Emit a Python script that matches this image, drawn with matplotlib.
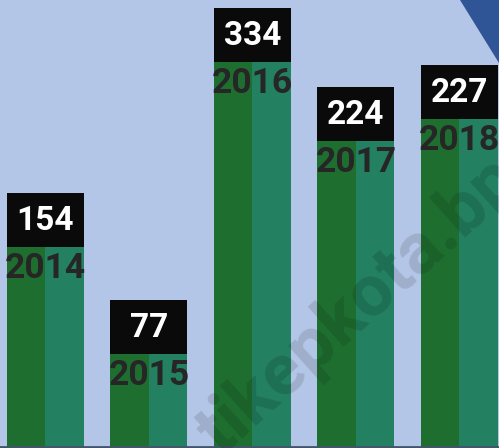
import matplotlib
matplotlib.use('Agg')
import matplotlib.pyplot as plt
from matplotlib.patches import Polygon

# Data
years = ['2014', '2015', '2016', '2017', '2018']
counts = [154, 77, 334, 224, 227]
# visible bar heights (picture units, the bars are not drawn to the label scale)
bar_heights = [255, 148, 440, 361, 383]

W, H = 499, 448
bg = '#b4c6e7'
green_dark = '#1e6e30'
green_light = '#238060'
box_h = 54
bar_w = 0.744

fig = plt.figure(figsize=(W / 100, H / 100), dpi=100)
fig.patch.set_facecolor(bg)
ax = fig.add_axes([0, 0, 1, 1])
ax.set_facecolor(bg)

x = list(range(len(years)))
# two-tone bars: darker left half, lighter right half
ax.bar([i - bar_w / 4 for i in x], bar_heights, width=bar_w / 2,
       color=green_dark, linewidth=0)
ax.bar([i + bar_w / 4 for i in x], bar_heights, width=bar_w / 2,
       color=green_light, linewidth=0)
# black label boxes on top of each bar
ax.bar(x, [box_h] * len(x), width=bar_w,
       bottom=[h - box_h for h in bar_heights], color='#0a0a0a', linewidth=0)

for i, (yr, c, h) in enumerate(zip(years, counts, bar_heights)):
    ax.text(i, h - box_h / 2 - 1, str(c), ha='center', va='center',
            color='white', fontsize=24, fontweight='bold', family='Roboto')
    ax.text(i, h - box_h - 21, yr, ha='center', va='center',
            color='#262626', fontsize=25.5, fontweight='bold', family='Roboto')

ax.axhline(1, color='#44546a', linewidth=2)

ax.set_xlim(-0.4396, 4.382)
ax.set_ylim(0, H)
ax.axis('off')

# watermark
fig.text(232 / W, 1 - 468 / H, 'tikepkota.bps.go.id', rotation=42,
         rotation_mode='anchor', ha='left', va='bottom',
         fontsize=52, fontweight='bold', family='Roboto',
         color='black', alpha=0.12)

# blue corner triangle
tri = Polygon([(460 / W, 1), (1, 1), (1, 1 - 63 / H)], closed=True,
              transform=fig.transFigure, facecolor='#2f5597', edgecolor='none')
fig.patches.append(tri)

plt.savefig('out.png', dpi=100, facecolor=bg)
